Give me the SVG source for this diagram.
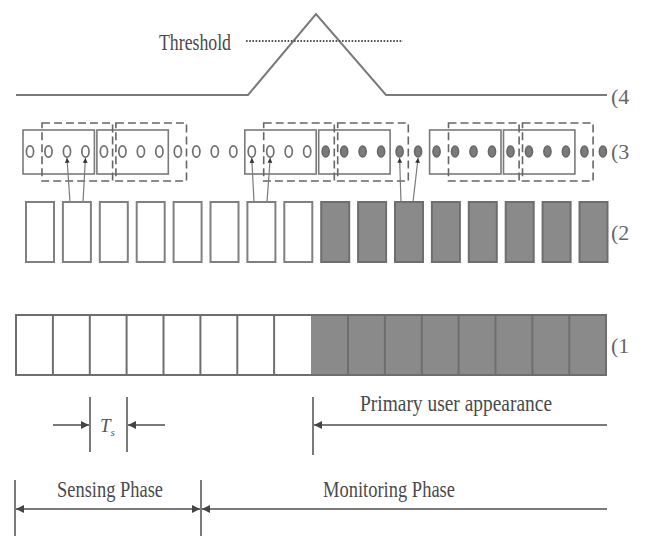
<svg xmlns="http://www.w3.org/2000/svg" width="648" height="536" viewBox="0 0 648 536">
<style>
  .ln{fill:none;stroke:#7a7a7a;stroke-width:2}
  .txt{font-family:"Liberation Serif","Times New Roman",serif;font-size:23px;fill:#4a4a4a}
  .lbl{font-family:"Liberation Serif","Times New Roman",serif;font-size:22px;fill:#666}
  .solid{fill:none;stroke:#7a7a7a;stroke-width:1.6}
  .dash{fill:none;stroke:#666;stroke-width:1.6;stroke-dasharray:8 4}
  .open{fill:#fff;stroke:#707070;stroke-width:1.7}
  .full{fill:#7a7a7a;stroke:#666;stroke-width:1.5}
  .slot{fill:#fff;stroke:#808080;stroke-width:2}
  .slotf{fill:#8a8a8a;stroke:#6e6e6e;stroke-width:2}
  .cn{fill:none;stroke:#7a7a7a;stroke-width:1.2}
  .ar{fill:none;stroke:#7a7a7a;stroke-width:2}
</style>
<defs>
  <marker id="ah" viewBox="0 0 10 10" refX="10" refY="5" markerWidth="4" markerHeight="4" orient="auto-start-reverse" markerUnits="strokeWidth">
    <path d="M0,0 L10,5 L0,10 z" fill="#444"/>
  </marker>
  <marker id="sh" viewBox="0 0 10 10" refX="10" refY="5" markerWidth="4" markerHeight="4.5" orient="auto-start-reverse" markerUnits="strokeWidth">
    <path d="M0,0 L10,5 L0,10 z" fill="#333"/>
  </marker>
</defs>
<rect width="648" height="536" fill="#fff"/>

<!-- Row 4: detection statistic -->
<g id="row4">
  <polyline class="ln" points="16,95 248,95 316,14 386,95 607,95"/>
  <line x1="246" y1="41" x2="403" y2="41" stroke="#555" stroke-width="2" stroke-dasharray="1.6 1.6"/>
  <text class="txt" x="159" y="50" textLength="72" lengthAdjust="spacingAndGlyphs">Threshold</text>
  <text class="lbl" x="611" y="104">(4</text>
</g>

<!-- Row 3: samples with sliding windows -->
<g id="row3">
  <g id="windows-solid">
    <rect class="solid" x="23" y="130" width="71.4" height="44"/>
    <rect class="solid" x="96.9" y="130" width="71.4" height="44"/>
    <rect class="solid" x="244.8" y="130" width="71.4" height="44"/>
    <rect class="solid" x="318.7" y="130" width="71.4" height="44"/>
    <rect class="solid" x="429.6" y="130" width="71.4" height="44"/>
    <rect class="solid" x="503.5" y="130" width="71.4" height="44"/>
  </g>
  <g id="windows-dashed">
    <rect class="dash" x="42" y="123" width="70.6" height="58"/>
    <rect class="dash" x="115.9" y="123" width="70.6" height="58"/>
    <rect class="dash" x="263.7" y="123" width="70.6" height="58"/>
    <rect class="dash" x="337.7" y="123" width="70.6" height="58"/>
    <rect class="dash" x="448.5" y="123" width="70.6" height="58"/>
    <rect class="dash" x="522.5" y="123" width="70.6" height="58"/>
  </g>
  <g id="samples">
    <ellipse class="open" cx="30" cy="151.5" rx="3.6" ry="5.6"/>
    <ellipse class="open" cx="48.48" cy="151.5" rx="3.6" ry="5.6"/>
    <ellipse class="open" cx="66.96" cy="151.5" rx="3.6" ry="5.6"/>
    <ellipse class="open" cx="85.44" cy="151.5" rx="3.6" ry="5.6"/>
    <ellipse class="open" cx="103.92" cy="151.5" rx="3.6" ry="5.6"/>
    <ellipse class="open" cx="122.4" cy="151.5" rx="3.6" ry="5.6"/>
    <ellipse class="open" cx="140.88" cy="151.5" rx="3.6" ry="5.6"/>
    <ellipse class="open" cx="159.36" cy="151.5" rx="3.6" ry="5.6"/>
    <ellipse class="open" cx="177.84" cy="151.5" rx="3.6" ry="5.6"/>
    <ellipse class="open" cx="196.32" cy="151.5" rx="3.6" ry="5.6"/>
    <ellipse class="open" cx="214.8" cy="151.5" rx="3.6" ry="5.6"/>
    <ellipse class="open" cx="233.28" cy="151.5" rx="3.6" ry="5.6"/>
    <ellipse class="open" cx="251.76" cy="151.5" rx="3.6" ry="5.6"/>
    <ellipse class="open" cx="270.24" cy="151.5" rx="3.6" ry="5.6"/>
    <ellipse class="open" cx="288.72" cy="151.5" rx="3.6" ry="5.6"/>
    <ellipse class="open" cx="307.2" cy="151.5" rx="3.6" ry="5.6"/>
    <ellipse class="full" cx="325.68" cy="151.5" rx="3.6" ry="5.6"/>
    <ellipse class="full" cx="344.16" cy="151.5" rx="3.6" ry="5.6"/>
    <ellipse class="full" cx="362.64" cy="151.5" rx="3.6" ry="5.6"/>
    <ellipse class="full" cx="381.12" cy="151.5" rx="3.6" ry="5.6"/>
    <ellipse class="full" cx="399.6" cy="151.5" rx="3.6" ry="5.6"/>
    <ellipse class="full" cx="418.08" cy="151.5" rx="3.6" ry="5.6"/>
    <ellipse class="full" cx="436.56" cy="151.5" rx="3.6" ry="5.6"/>
    <ellipse class="full" cx="455.04" cy="151.5" rx="3.6" ry="5.6"/>
    <ellipse class="full" cx="473.52" cy="151.5" rx="3.6" ry="5.6"/>
    <ellipse class="full" cx="492" cy="151.5" rx="3.6" ry="5.6"/>
    <ellipse class="full" cx="510.48" cy="151.5" rx="3.6" ry="5.6"/>
    <ellipse class="full" cx="528.96" cy="151.5" rx="3.6" ry="5.6"/>
    <ellipse class="full" cx="547.44" cy="151.5" rx="3.6" ry="5.6"/>
    <ellipse class="full" cx="565.92" cy="151.5" rx="3.6" ry="5.6"/>
    <ellipse class="full" cx="584.4" cy="151.5" rx="3.6" ry="5.6"/>
    <ellipse class="full" cx="602.88" cy="151.5" rx="3.6" ry="5.6"/>
  </g>
  <text class="lbl" x="611" y="159">(3</text>
</g>

<!-- Connectors: samples to slots -->
<g id="connectors">
  <line class="cn" x1="66.96" y1="158" x2="70" y2="202" marker-start="url(#sh)"/>
  <line class="cn" x1="85.44" y1="158" x2="83" y2="202" marker-start="url(#sh)"/>
  <line class="cn" x1="251.76" y1="158" x2="254" y2="202" marker-start="url(#sh)"/>
  <line class="cn" x1="270.24" y1="158" x2="267" y2="202" marker-start="url(#sh)"/>
  <line class="cn" x1="399.6" y1="158" x2="401" y2="202" marker-start="url(#sh)"/>
  <line class="cn" x1="418.08" y1="158" x2="413" y2="202" marker-start="url(#sh)"/>
</g>

<!-- Row 2: slots -->
<g id="row2">
  <rect class="slot" x="26" y="202" width="28" height="60"/>
  <rect class="slot" x="62.9" y="202" width="28" height="60"/>
  <rect class="slot" x="99.8" y="202" width="28" height="60"/>
  <rect class="slot" x="136.7" y="202" width="28" height="60"/>
  <rect class="slot" x="173.6" y="202" width="28" height="60"/>
  <rect class="slot" x="210.5" y="202" width="28" height="60"/>
  <rect class="slot" x="247.4" y="202" width="28" height="60"/>
  <rect class="slot" x="284.3" y="202" width="28" height="60"/>
  <rect class="slotf" x="321.2" y="202" width="28" height="60"/>
  <rect class="slotf" x="358.1" y="202" width="28" height="60"/>
  <rect class="slotf" x="395" y="202" width="28" height="60"/>
  <rect class="slotf" x="431.9" y="202" width="28" height="60"/>
  <rect class="slotf" x="468.8" y="202" width="28" height="60"/>
  <rect class="slotf" x="505.7" y="202" width="28" height="60"/>
  <rect class="slotf" x="542.6" y="202" width="28" height="60"/>
  <rect class="slotf" x="579.5" y="202" width="28" height="60"/>
  <text class="lbl" x="611" y="240">(2</text>
</g>

<!-- Row 1: frame -->
<g id="row1">
  <rect x="16" y="315" width="295" height="60" fill="#fff"/>
  <rect x="311" y="315" width="295" height="60" fill="#8a8a8a"/>
  <rect x="16" y="315" width="590" height="60" fill="none" stroke="#6e6e6e" stroke-width="2"/>
  <g stroke="#6e6e6e" stroke-width="2">
    <line x1="52.9" y1="315" x2="52.9" y2="375"/>
    <line x1="89.8" y1="315" x2="89.8" y2="375"/>
    <line x1="126.6" y1="315" x2="126.6" y2="375"/>
    <line x1="163.5" y1="315" x2="163.5" y2="375"/>
    <line x1="200.4" y1="315" x2="200.4" y2="375"/>
    <line x1="237.3" y1="315" x2="237.3" y2="375"/>
    <line x1="274.1" y1="315" x2="274.1" y2="375"/>
    <line x1="348" y1="315" x2="348" y2="375"/>
    <line x1="384.9" y1="315" x2="384.9" y2="375"/>
    <line x1="421.8" y1="315" x2="421.8" y2="375"/>
    <line x1="458.6" y1="315" x2="458.6" y2="375"/>
    <line x1="495.5" y1="315" x2="495.5" y2="375"/>
    <line x1="532.4" y1="315" x2="532.4" y2="375"/>
    <line x1="569.3" y1="315" x2="569.3" y2="375"/>
  </g>
  <text class="lbl" x="611" y="353">(1</text>
</g>

<!-- Ts annotation -->
<g id="ts">
  <line class="ar" x1="90" y1="397" x2="90" y2="452"/>
  <line class="ar" x1="127" y1="397" x2="127" y2="452"/>
  <line class="ar" x1="53" y1="425" x2="89" y2="425" marker-end="url(#ah)"/>
  <line class="ar" x1="165" y1="425" x2="128" y2="425" marker-end="url(#ah)"/>
  <text x="100" y="432" font-family="Liberation Serif, serif" font-style="italic" font-size="19" fill="#555">T<tspan font-size="11" dy="4">s</tspan></text>
</g>

<!-- Primary user appearance -->
<g id="pua">
  <line class="ar" x1="313" y1="397" x2="313" y2="455"/>
  <line class="ar" x1="607" y1="425" x2="314" y2="425" marker-end="url(#ah)"/>
  <text class="txt" x="360" y="411" textLength="192" lengthAdjust="spacingAndGlyphs">Primary user appearance</text>
</g>

<!-- Phases -->
<g id="phases">
  <line class="ar" x1="15" y1="480" x2="15" y2="536"/>
  <line class="ar" x1="201" y1="480" x2="201" y2="536"/>
  <line class="ar" x1="16" y1="509" x2="200" y2="509" marker-start="url(#ah)" marker-end="url(#ah)"/>
  <line class="ar" x1="607" y1="509" x2="202" y2="509" marker-end="url(#ah)"/>
  <text class="txt" x="57" y="497" textLength="106" lengthAdjust="spacingAndGlyphs">Sensing Phase</text>
  <text class="txt" x="323" y="497" textLength="132" lengthAdjust="spacingAndGlyphs">Monitoring Phase</text>
</g>
</svg>
